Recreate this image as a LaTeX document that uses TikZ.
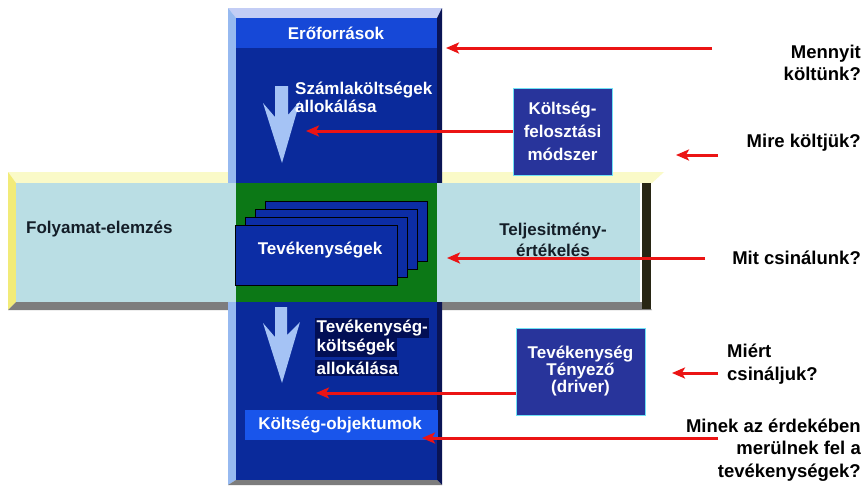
\documentclass[tikz,border=0pt]{standalone}
\usepackage{fontspec}
\setmainfont{Liberation Sans}
\usetikzlibrary{arrows.meta}
\definecolor{barblue}{RGB}{10,42,155}
\definecolor{headblue}{RGB}{22,72,215}
\definecolor{objblue}{RGB}{25,85,235}
\definecolor{bevlav}{RGB}{195,205,245}
\definecolor{bevblue}{RGB}{150,185,240}
\definecolor{shadnavy}{RGB}{10,20,85}
\definecolor{arrowblue}{RGB}{165,195,245}
\definecolor{midgreen}{RGB}{12,120,22}
\definecolor{lightcyan}{RGB}{186,222,228}
\definecolor{paleyellow}{RGB}{250,250,200}
\definecolor{stripyellow}{RGB}{242,235,120}
\definecolor{bevgrey}{RGB}{125,125,125}
\definecolor{darkolive}{RGB}{40,38,20}
\definecolor{boxblue}{RGB}{40,52,155}
\definecolor{boxcyan}{RGB}{110,225,245}
\definecolor{cardblue}{RGB}{12,45,165}
\definecolor{hlblue}{RGB}{2,15,85}
\definecolor{arrred}{RGB}{235,20,20}
\definecolor{darktext}{RGB}{20,30,40}
\begin{document}
\begin{tikzpicture}[x=1pt,y=-1pt,
  redarrow/.style={draw=arrred,line width=3pt,-{Stealth[length=13pt,width=11pt,inset=3pt]}},
  wtext/.style={text=white,font=\bfseries\fontsize{17}{18}\selectfont,inner sep=0pt},
  qlabel/.style={text=black,font=\bfseries\fontsize{18.5}{22.5}\selectfont,inner sep=0pt},
  mbox/.style={draw=boxcyan,line width=1pt,fill=boxblue,text=white,align=center,inner sep=0pt},
  card/.style={draw=black,line width=1pt,fill=cardblue},
  hl/.style={wtext,fill=hlblue,inner sep=1.5pt,anchor=west}]
\useasboundingbox (0,0) rectangle (867,488);
\fill[white] (0,0) rectangle (867,488);
% horizontal bar bevels (behind the vertical bar)
\fill[paleyellow] (8,172) -- (664,172) -- (652,183) -- (16,183) -- cycle;
\fill[stripyellow] (8,172) -- (16,183) -- (16,302) -- (8,310) -- cycle;
\fill[bevgrey] (8,310) -- (652,310) -- (642,302) -- (16,302) -- cycle;
\fill[darkolive] (642,183) rectangle (651,309);
% vertical bar
\fill[bevlav] (228,8) -- (442,8) -- (437,18) -- (236,18) -- cycle;
\fill[bevblue] (228,8) -- (236,18) -- (236,480) -- (228,485) -- cycle;
\fill[shadnavy] (442,8) -- (442,485) -- (437,480) -- (437,18) -- cycle;
\fill[bevgrey] (228,485) -- (442,485) -- (437,480) -- (236,480) -- cycle;
\fill[barblue] (236,18) rectangle (437,480);
\fill[headblue] (236,18) rectangle (437,48);
% horizontal bar face and green centre
\fill[lightcyan] (16,183) rectangle (640,302);
\fill[midgreen] (236,183) rectangle (437,302);
% cards
\filldraw[card] (265,201) rectangle (427,261);
\filldraw[card] (255,209) rectangle (417,269);
\filldraw[card] (245,217) rectangle (407,277);
\filldraw[card] (235,225) rectangle (397,285);
\node[wtext] (tev) at (320,250) {Tevékenységek};
% down arrows
\fill[arrowblue] (275,86) -- (288,86) -- (288,115) -- (300,101) -- (282,163) -- (263,103) -- (275,117) -- cycle;
\fill[arrowblue] (275,307) -- (287,307) -- (287,335) -- (300,322) -- (282,383) -- (263,323) -- (275,337) -- cycle;
% texts in the vertical bar
\node[wtext] (ero) at (336,33) {Erőforrások};
\node[wtext,anchor=west,align=left] (szaml) at (295,97) {Számlaköltségek\\allokálása};
\node[hl] (tk1) at (315,328) {Tevékenység-};
\node[hl] (tk2) at (315,347) {költségek};
\node[hl] (tk3) at (315,368) {allokálása};
\fill[objblue] (245,410) rectangle (438,440);
\node[wtext] (obj) at (340,425) {Költség-objektumok};
% horizontal bar texts
\node[inner sep=0pt,anchor=west,text=darktext,font=\bfseries\fontsize{17}{21}\selectfont] (fol) at (26,229) {Folyamat-elemzés};
\node[inner sep=0pt,align=center,text=darktext,font=\bfseries\fontsize{17}{21}\selectfont] (telj) at (553,240) {Teljesitmény-\\értékelés};
% boxes
\node[mbox,minimum width=99pt,minimum height=87pt,font=\bfseries\fontsize{17}{23}\selectfont] (kfm) at (562.5,131.5) {Költség-\\felosztási\\módszer};
\node[mbox,minimum width=129pt,minimum height=87pt,font=\bfseries\fontsize{17}{17}\selectfont] (tt) at (580.5,371.5) {Tevékenység\\Tényező\\(driver)};
% question labels
\node[qlabel,anchor=east,align=right] (q1) at (861,63) {Mennyit\\költünk?};
\node[qlabel,anchor=east] (q2) at (861,143) {Mire költjük?};
\node[qlabel,anchor=east] (q3) at (861,258) {Mit csinálunk?};
\node[qlabel,anchor=west,align=left] (q4) at (727,364) {Miért\\csináljuk?};
\node[qlabel,anchor=east,align=right] (q5) at (861,450) {Minek az érdekében\\merülnek fel a\\tevékenységek?};
% arrow endpoints
\coordinate (a1s) at (712,48);  \coordinate (a1e) at (446,48);
\coordinate (a2e) at (306,131);
\coordinate (a3s) at (718,155); \coordinate (a3e) at (676,155);
\coordinate (a4s) at (705,258); \coordinate (a4e) at (447,258);
\coordinate (a5e) at (316,393);
\coordinate (a6s) at (718,373); \coordinate (a6e) at (672,373);
\coordinate (a7s) at (718,438); \coordinate (a7e) at (422,438);
\draw[redarrow] (a1s) -- (a1e);
\draw[redarrow] (kfm.west |- a2e) -- (a2e);
\draw[redarrow] (a3s) -- (a3e);
\draw[redarrow] (a4s) -- (a4e);
\draw[redarrow] (tt.west |- a5e) -- (a5e);
\draw[redarrow] (a6s) -- (a6e);
\draw[redarrow] (a7s) -- (a7e);
\end{tikzpicture}
\end{document}
